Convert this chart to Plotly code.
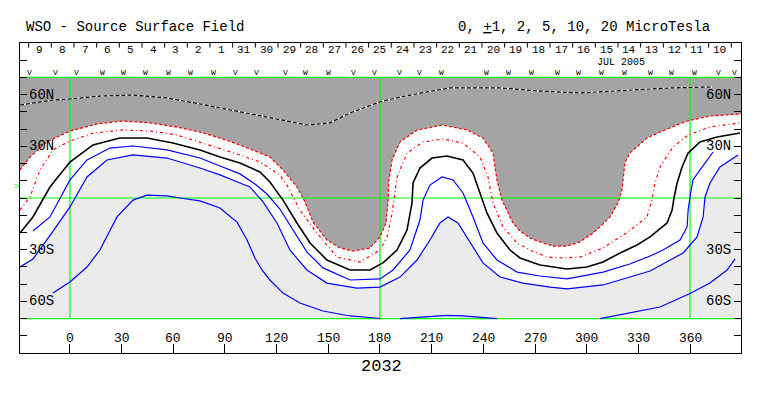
import plotly.graph_objects as go

# ---------------- axis extent (degrees) ----------------
LON_MIN, LON_MAX = -29.0, 389.6
LAT_MIN, LAT_MAX = -90, 90
MAP_LAT = 70

# ---------------- contour lines (lon, lat) ----------------
# +5 microTesla (black/white dashed, inside dark region)
pos5_lon = [-29.0, -21.5, -9.9, 0, 17.4, 36.6, 56.3, 75.5, 87.1, 102.8, 121.9, 137.6, 151.0,
            162.6, 180.0, 191.6, 207.3, 220.6, 249.7, 272.9, 296.1, 307.7, 329.2, 348.4, 373.4]
pos5_lat = [54.0, 55.2, 56.9, 57.5, 59.2, 59.8, 58.1, 54.6, 52.3, 49.4, 45.3, 42.4, 43.6,
            49.4, 55.8, 58.6, 61.6, 63.9, 63.9, 62.1, 61.0, 61.6, 62.7, 63.9, 64.5]

# +2 (red dashed, edge of dark region)
pos2_lon = [-29.0, -23.2, -13.4, 0, 15.7, 30.8, 46.5, 62.1, 75.5, 87.1, 98.7, 110.3, 116.1,
            123.7, 131.8, 136.5, 141.1, 149.2, 156.8, 164.3, 174.2, 180.0, 183.5, 184.6, 185.2,
            187.0, 191.6, 201.5, 216.6, 230.5, 239.8, 245.6, 247.9, 250.8, 257.2, 261.3, 267.1,
            272.9, 280.5, 288.6, 296.1, 303.7, 307.7, 313.5, 318.2, 320.5, 322.2, 325.1, 335.0,
            342.6, 358.3, 371.6, 389.6]
pos2_lat = [16.3, 23.8, 32.5, 38.9, 43.0, 44.7, 43.6, 41.2, 38.3, 34.8, 30.8, 26.1, 23.8,
            16.3, 6.4, -2.3, -14.0, -24.4, -29.0, -30.8, -29.0, -22.6, -14.5, -2.9, 10.5,
            22.1, 32.5, 39.5, 42.4, 39.5, 34.8, 26.1, 10.5, -1.2, -14.5, -19.2, -23.2,
            -25.5, -27.9, -27.9, -25.5, -20.3, -16.8, -11.0, -2.9, 4.6, 20.3, 26.1, 34.8,
            38.3, 44.7, 47.6, 48.8]

# +1 (red dash-dot)
pos1_lon = [-29.0, -23.2, -17.4, -9.9, 0, 13.4, 30.8, 46.5, 62.1, 75.5, 87.1, 98.7, 110.3,
            121.9, 126.0, 133.5, 143.4, 155.0, 168.4, 180.0, 184.1, 187.0, 189.9, 195.7, 205.0,
            216.6, 228.2, 238.1, 242.7, 245.6, 251.4, 259.6, 267.1, 277.0, 286.3, 296.1, 309.5,
            324.0, 335.0, 337.9, 339.7, 342.6, 350.1, 358.9, 371.6, 389.0]
pos1_lat = [-7.0, 0.6, 16.3, 27.9, 33.1, 37.7, 39.5, 38.9, 36.6, 32.5, 29.0, 25.0, 20.9,
            13.4, 7.5, -7.0, -20.3, -34.3, -37.2, -30.2, -22.6, -8.7, 12.2, 26.1, 32.5,
            34.3, 31.9, 23.8, 12.2, -2.9, -16.8, -26.1, -30.2, -34.3, -34.8, -34.3, -29.0,
            -19.7, -11.0, -1.2, 8.7, 18.0, 29.6, 36.6, 41.2, 43.6]

# 0 (neutral line, black)
zero_lon = [-29.0, -21.5, -11.6, 0, 13.4, 29.0, 44.7, 59.8, 75.5, 87.1, 98.7, 110.3, 116.1,
            123.7, 131.8, 139.4, 149.2, 162.6, 174.2, 181.7, 189.9, 195.7, 198.6, 199.2, 203.2,
            210.2, 218.9, 228.2, 234.0, 238.1, 242.1, 247.9, 255.5, 261.3, 272.9, 288.6, 300.2,
            309.5, 319.4, 329.2, 336.8, 346.7, 349.6, 350.7, 352.5, 355.4, 358.9, 365.8, 375.7, 389.0]
zero_lat = [-20.3, -11.0, 6.4, 20.9, 30.8, 34.8, 34.8, 31.9, 27.9, 23.8, 20.3, 15.1, 9.3,
            -1.2, -14.5, -26.1, -36.0, -41.8, -41.8, -37.7, -30.2, -18.6, -2.9, 8.7, 17.4,
            23.2, 24.4, 22.1, 14.5, 2.9, -8.7, -20.3, -30.2, -34.8, -38.9, -41.2, -40.1,
            -37.2, -31.9, -27.3, -22.6, -14.5, -7.0, 0.0, 8.7, 18.0, 26.1, 32.5, 35.4, 37.7]

# -1 (blue)
neg1_lon = [-21.5, -11.6, 0, 9.9, 23.2, 36.6, 56.3, 75.5, 87.1, 98.7, 107.4, 114.4, 121.9,
            129.5, 137.6, 146.9, 162.6, 180.0, 187.6, 197.4, 203.2, 205.0, 209.0, 216.0, 222.4,
            228.2, 234.0, 239.8, 247.9, 259.6, 272.9, 288.6, 309.5, 325.1, 336.8, 344.3, 354.2,
            358.3, 358.9, 360.0, 361.7, 365.8, 373.4]
neg1_lat = [-19.2, -11.0, 10.5, 22.1, 29.0, 30.2, 27.9, 23.2, 18.6, 14.0, 8.1, 2.3, -6.4,
            -18.6, -31.4, -40.6, -47.6, -47.0, -41.8, -30.2, -12.8, -1.2, 7.5, 12.2, 10.5,
            2.9, -11.0, -26.1, -36.0, -43.0, -45.3, -47.0, -43.0, -38.3, -33.7, -30.2, -24.4,
            -16.8, -7.0, 0.6, 10.5, 16.3, 26.7]

# -2 (blue, edge of light region)
neg2_lon = [-29.0, -21.5, -10.5, 0, 9.9, 21.5, 36.6, 56.3, 75.5, 87.1, 98.7, 104.5, 112.1,
            120.2, 127.7, 137.6, 149.2, 166.6, 180.0, 191.6, 201.5, 209.0, 214.8, 219.5, 225.3,
            232.3, 239.8, 249.7, 263.0, 278.7, 288.6, 309.5, 323.4, 336.8, 356.0, 364.1, 367.6,
            368.7, 371.6, 377.4, 387.9, 389.6]
neg2_lat = [-40.1, -35.4, -20.3, -5.2, 12.2, 22.1, 25.0, 23.2, 17.4, 13.4, 8.7, 6.4, -2.3,
            -14.5, -30.2, -41.8, -49.4, -52.3, -51.7, -45.9, -36.0, -24.4, -14.5, -11.0, -14.5,
            -26.1, -37.7, -45.9, -49.4, -51.7, -52.8, -50.5, -46.5, -42.4, -31.9, -22.6, -11.0,
            0.6, 8.7, 18.0, 25.0, 25.6]

# -5 (blue, three pieces)
neg5a_lon = [-9.9, 0, 9.9, 17.4, 27.3, 36.6, 44.7, 56.3, 63.9, 75.5, 87.1, 97.0, 102.8, 107.4,
             111.5, 116.1, 123.7, 133.5, 146.9, 162.6, 174.2, 180.0]
neg5a_lat = [-55.2, -48.8, -40.1, -30.2, -11.0, -1.2, 1.7, 1.2, 0.0, -1.7, -5.8, -14.0, -24.4,
             -34.8, -41.8, -47.6, -55.2, -61.0, -65.6, -68.5, -69.4, -70.0]
neg5b_lon = [191.6, 207.3, 218.9, 228.2, 238.1, 247.9]
neg5b_lat = [-70.0, -69.1, -68.2, -68.5, -69.4, -70.0]
neg5c_lon = [307.7, 323.4, 342.6, 359.4, 371.6, 381.5, 386.2]
neg5c_lat = [-70.0, -66.8, -63.3, -55.7, -49.4, -41.8, -35.4]

# ---------------- guide lines, ticks and labels ----------------
green_lons = [0, 180, 360]
green_lats = [-MAP_LAT, 0, MAP_LAT]
lon_ticks = [0, 30, 60, 90, 120, 150, 180, 210, 240, 270, 300, 330, 360]
lat_ticks = list(range(-90, 91, 10))
lat_label_vals = [60, 30, -30, -60]
lat_label_text = ["60N", "30N", "30S", "60S"]
b0_lat = 6.4  # green marker at the left edge

day_labels = ["9", "8", "7", "6", "5", "4", "3", "2", "1", "31", "30", "29", "28", "27", "26",
              "25", "24", "23", "22", "21", "20", "19", "18", "17", "16", "15", "14", "13",
              "12", "11", "10"]
day_lon_first = -17.4
day_step = 13.16

obs_lon = [-23.2, -8.3, 3.9, 19.0, 30.9, 44.0, 57.1, 70.1, 83.6, 96.4, 108.4, 125.2, 137.0,
           150.0, 164.5, 177.1, 191.6, 203.2, 215.8, 242.0, 254.9, 268.1, 283.0, 295.1,
           308.7, 322.2, 336.8, 349.4, 362.5, 376.4, 386.1]
obs_kind = list("VVVWWWWWWVVVWWVV" + "VVWWWWWWWWWWWVV")

DARK = "#a4a4a4"
LIGHT = "#ebebeb"
GREEN = "#00ff00"
BLUE = "#0000ff"
RED = "#ff0000"
MONO = "Liberation Mono, DejaVu Sans Mono, monospace"

fig = go.Figure()


def add(x, y, **kw):
    kw.setdefault("mode", "lines")
    fig.add_trace(go.Scatter(x=x, y=y, hoverinfo="skip", showlegend=False, **kw))


# region fills
add([LON_MIN, LON_MAX, LON_MAX, LON_MIN, LON_MIN], [-MAP_LAT, -MAP_LAT, MAP_LAT, MAP_LAT, -MAP_LAT],
    fill="toself", fillcolor=LIGHT, line=dict(width=0))
add(neg2_lon + [LON_MAX, LON_MIN], neg2_lat + [MAP_LAT, MAP_LAT],
    fill="toself", fillcolor="white", line=dict(width=0))
add(pos2_lon + [LON_MAX, LON_MIN], pos2_lat + [MAP_LAT, MAP_LAT],
    fill="toself", fillcolor=DARK, line=dict(width=0))

# green reference lines
for la in green_lats:
    add([LON_MIN, LON_MAX], [la, la], line=dict(color=GREEN, width=1.2))
for lo in green_lons:
    add([lo, lo], [-MAP_LAT, MAP_LAT], line=dict(color=GREEN, width=1.2))

# contours
add(pos5_lon, pos5_lat, line=dict(color="white", width=1.2))
add(pos5_lon, pos5_lat, line=dict(color="black", width=1.2, dash="4px,2px"))
add(pos2_lon, pos2_lat, line=dict(color=RED, width=1.2, dash="3px,2px"))
add(pos1_lon, pos1_lat, line=dict(color=RED, width=1.2, dash="3px,3px,1px,3px"))
add(zero_lon, zero_lat, line=dict(color="black", width=1.6))
add(neg1_lon, neg1_lat, line=dict(color=BLUE, width=1.2))
add(neg2_lon[:-1], neg2_lat[:-1], line=dict(color=BLUE, width=1.2))
add(neg5a_lon, neg5a_lat, line=dict(color=BLUE, width=1.2))
add(neg5b_lon, neg5b_lat, line=dict(color=BLUE, width=1.2))
add(neg5c_lon, neg5c_lat, line=dict(color=BLUE, width=1.2))

# day separators along the top edge
sep_x, sep_y = [], []
for k in range(len(day_labels) + 1):
    lo = day_lon_first + day_step * (k - 0.5)
    sep_x += [lo, lo, None]
    sep_y += [LAT_MAX, 87.3, None]
add(sep_x, sep_y, line=dict(color="black", width=1))

ann = []
for i, d in enumerate(day_labels):
    ann.append(dict(x=day_lon_first + day_step * i, y=86.0, text=d, showarrow=False,
                    font=dict(family=MONO, size=11, color="black"), xanchor="center",
                    yanchor="middle", borderpad=0))
for lo, k in zip(obs_lon, obs_kind):
    ann.append(dict(x=lo, y=72.6, text=k, showarrow=False, borderpad=0,
                    font=dict(family=MONO, size=8, color="black"), xanchor="center", yanchor="middle"))
ann.append(dict(x=320, y=78.8, text="JUL 2005", showarrow=False, borderpad=0,
                font=dict(family=MONO, size=10, color="black"), xanchor="center", yanchor="middle"))
for v in lon_ticks:
    ann.append(dict(x=v, y=-81.5, text=str(v), showarrow=False,
                    font=dict(family=MONO, size=13, color="black"), xanchor="center", yanchor="middle"))
for v, t in zip(lat_label_vals, lat_label_text):
    ann.append(dict(x=-25.0, y=v, text=t, showarrow=False, xanchor="left", yanchor="middle",
                    font=dict(family=MONO, size=14, color="black")))
    ann.append(dict(x=385.0, y=v, text=t, showarrow=False, xanchor="right", yanchor="middle",
                    font=dict(family=MONO, size=14, color="black")))
ann.append(dict(xref="paper", yref="y", x=-0.0055, y=b0_lat, text=">", showarrow=False,
                xanchor="center", yanchor="middle", borderpad=0,
                font=dict(family=MONO, size=9, color=GREEN)))
ann.append(dict(xref="paper", yref="paper", x=0.0055, y=1.0516, text="WSO - Source Surface Field",
                showarrow=False, xanchor="left", yanchor="middle",
                font=dict(family=MONO, size=14, color="black")))
ann.append(dict(xref="paper", yref="paper", x=0.6047, y=1.0516,
                text="0, <u>+</u>1, 2, 5, 10, 20 MicroTesla",
                showarrow=False, xanchor="left", yanchor="middle",
                font=dict(family=MONO, size=14, color="black")))
ann.append(dict(xref="paper", yref="paper", x=0.5007, y=-0.042, text="2032",
                showarrow=False, xanchor="center", yanchor="middle",
                font=dict(family=MONO, size=17, color="black")))

fig.update_layout(
    width=763, height=396,
    margin=dict(l=20, r=22, t=43, b=43),
    paper_bgcolor="white", plot_bgcolor="white",
    showlegend=False,
    annotations=ann,
    xaxis=dict(range=[LON_MIN, LON_MAX], showgrid=False, zeroline=False,
               showline=True, linecolor="black", linewidth=1, mirror=True,
               tickmode="array", tickvals=lon_ticks, ticks="inside", ticklen=9,
               tickcolor="black", showticklabels=False, fixedrange=True),
    yaxis=dict(range=[LAT_MIN, LAT_MAX], showgrid=False, zeroline=False,
               showline=True, linecolor="black", linewidth=1, mirror="ticks",
               tickmode="array", tickvals=lat_ticks, ticks="inside", ticklen=7,
               tickcolor="black", showticklabels=False, fixedrange=True),
)

fig.write_html("out.html", config={"displayModeBar": False},
               post_script="document.body.style.margin='0px';")
